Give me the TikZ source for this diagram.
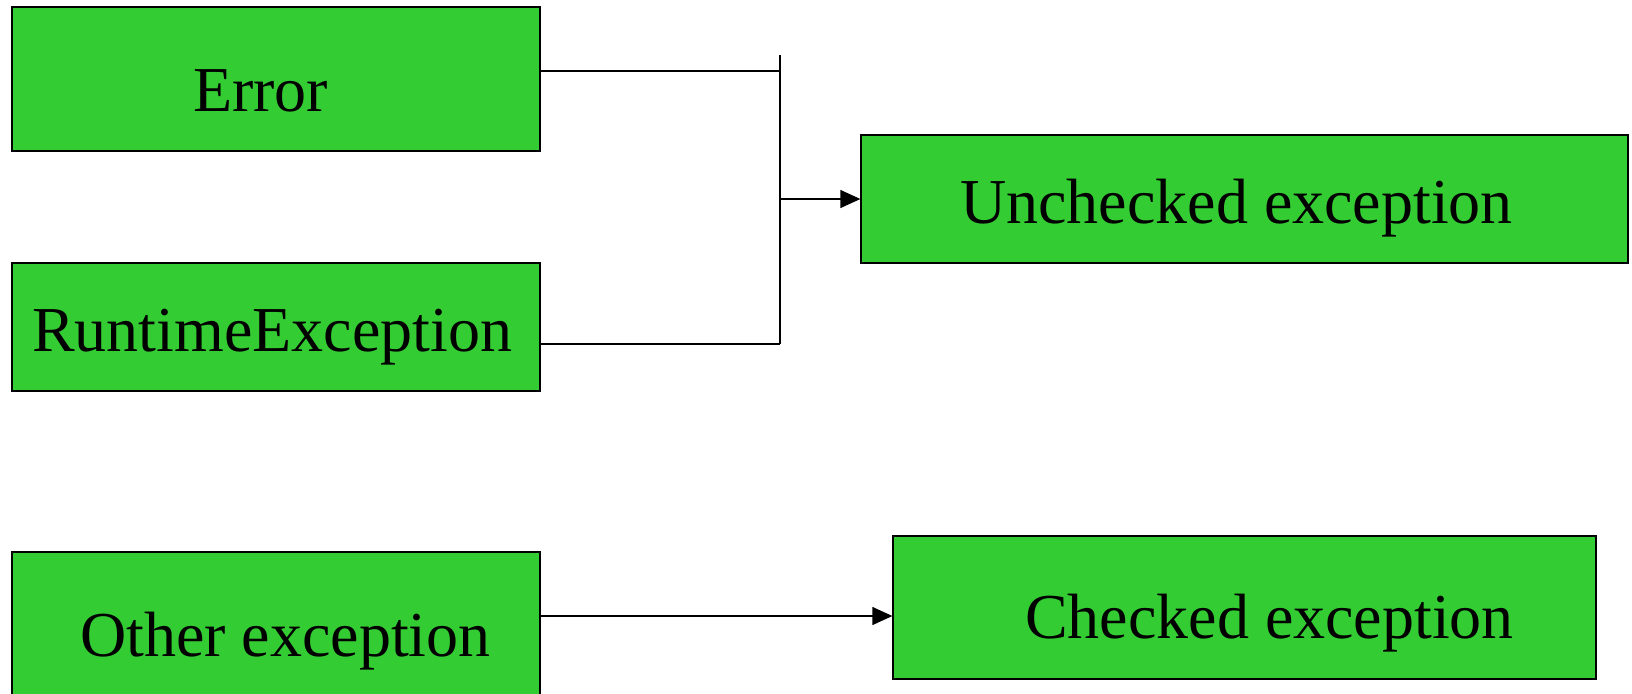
\documentclass[tikz,border=0pt]{standalone}
\usepackage{fontspec}
\setmainfont{Liberation Serif}
\usetikzlibrary{arrows.meta}
\definecolor{boxgreen}{RGB}{51,204,51}
\begin{document}
\begin{tikzpicture}[x=1pt,y=-1pt,
  gbox/.style={draw=black,line width=1.3pt,fill=boxgreen,inner sep=0pt,rectangle},
  lbl/.style={anchor=base west,inner sep=0pt,font=\fontsize{64}{70}\selectfont},
  conn/.style={draw=black,line width=1.3pt},
  arr/.style={conn,-{Triangle[length=20pt,width=18pt]}}]
\useasboundingbox (0,0) rectangle (1632,693);
\fill[white] (0,0) rectangle (1632,693);
% boxes
\node[gbox,minimum width=528pt,minimum height=144pt] (E) at (276,79) {};
\node[gbox,minimum width=528pt,minimum height=128pt] (R) at (276,327) {};
\node[gbox,minimum width=528pt,minimum height=146pt] (O) at (276,625) {};
\node[gbox,minimum width=767pt,minimum height=128pt] (U) at (1244.5,199) {};
\node[gbox,minimum width=703pt,minimum height=143pt] (C) at (1244.5,607.5) {};
% labels
\node[lbl] (tE) at (193,111) {Error};
\node[lbl] (tR) at (32,351) {RuntimeException};
\node[lbl] (tU) at (960,223) {Unchecked exception};
\node[lbl] (tO) at (80,656) {Other exception};
\node[lbl] (tC) at (1025,638) {Checked exception};
% connectors
\coordinate (vt) at (780,55);
\coordinate (Ea) at ([yshift=8pt]E.east);
\coordinate (Ra) at ([yshift=-17pt]R.east);
\coordinate (Oa) at ([yshift=9pt]O.east);
\draw[conn] (Ea) -- (Ea -| vt);
\draw[conn] (Ra) -- (Ra -| vt);
\draw[conn] (vt) -- (vt |- Ra);
\draw[arr] (vt |- U.west) -- (U.west);
\draw[arr] (Oa) -- (Oa -| C.west);
\end{tikzpicture}
\end{document}
